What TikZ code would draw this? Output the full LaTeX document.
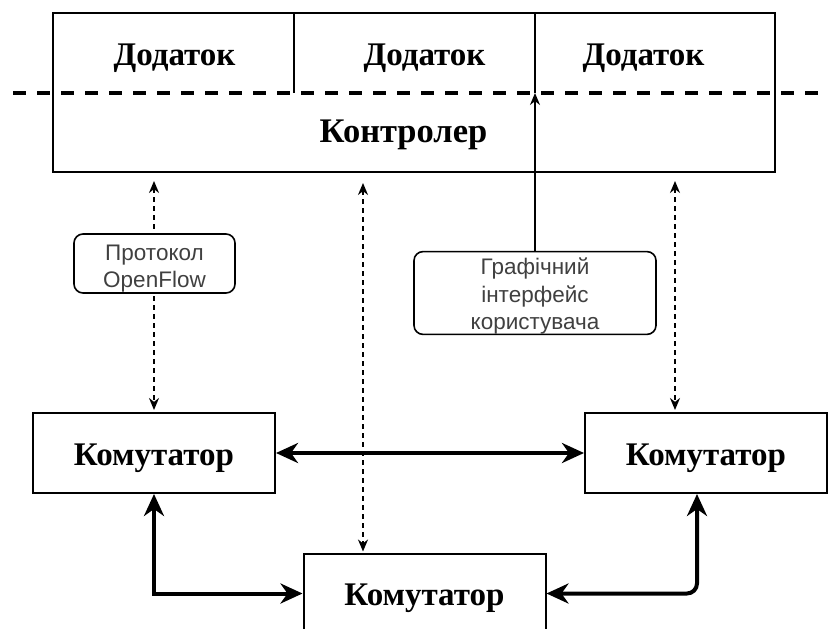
\documentclass[tikz,border=0pt]{standalone}
\usepackage{fontspec}
\setmainfont{Liberation Serif}
\newfontfamily\labelsans{Liberation Sans}
\usetikzlibrary{arrows.meta}

\begin{document}
\begin{tikzpicture}[x=1pt,y=-1pt,
  frame/.style={draw, line width=2pt, inner sep=0pt},
  switchbox/.style={frame, minimum width=242pt, minimum height=80pt,
    text height=24pt, text depth=0pt,
    font=\fontsize{33}{38}\selectfont\bfseries},
  title/.style={inner sep=0pt, anchor=base, font=\fontsize{33}{38}\selectfont\bfseries},
  tag/.style={draw, fill=white, rounded corners=9pt, line width=1.6pt,
    inner sep=0pt, align=center, text=black!75,
    font=\labelsans\fontsize{22.5}{27.5}\selectfont},
  rule/.style={line width=1.6pt},
  split/.style={line width=4pt, dash pattern=on 13pt off 11pt},
  sig/.style={line width=1.8pt, dash pattern=on 5pt off 4pt,
    {Stealth[length=12pt,width=10pt]}-{Stealth[length=12pt,width=10pt]}},
  feed/.style={line width=1.8pt, -{Stealth[length=12pt,width=10pt]}},
  link/.style={line width=4pt,
    {Stealth[length=22pt,width=20pt,inset=7pt]}-{Stealth[length=22pt,width=20pt,inset=7pt]}}
]
\useasboundingbox (0,0) rectangle (830,629);

% controller with its application layer
\node[frame, minimum width=722pt, minimum height=159pt] (ctrl) at (414,92.5) {};
\draw[rule] (294,13) -- (294,93);
\draw[rule] (535,13) -- (535,93);
\node[title] (app1) at (174.5,65) {Додаток};
\node[title] (app2) at (424.5,65) {Додаток};
\node[title] (app3) at (643.5,65) {Додаток};
\node[title, font=\fontsize{34.5}{38}\selectfont\bfseries] (ctrlname) at (403.5,142) {Контролер};

% northbound / southbound boundary
\coordinate (sepL) at (13,93);
\coordinate (sepR) at (820,93);
\draw[split] (sepL) -- (sepR);

% switches
\node[switchbox] (sw1) at (154,453) {Комутатор};
\node[switchbox] (sw2) at (706,453) {Комутатор};
\node[switchbox] (sw3) at (424.5,593.5) {Комутатор};

% user interface
\node[tag, minimum width=242pt, minimum height=80pt, text height=78pt, text depth=4.8pt]
  (gui) at (535,293) {Графічний\\інтерфейс\\користувача};
\draw[feed] (gui.north) -- (gui.north |- sepL);

% OpenFlow channels
\draw[sig, shorten <=8pt, shorten >=2pt] (ctrl.south -| sw1.north) -- (sw1.north);
\draw[sig, shorten <=10pt, shorten >=1pt] (ctrl.south -| 363,0) -- (sw3.north -| 363,0);
\draw[sig, shorten <=8pt, shorten >=2pt] (ctrl.south -| 675,0) -- (sw2.north -| 675,0);
\node[tag, minimum width=161pt, minimum height=59pt, text height=53pt, text depth=5pt]
  (ofp) at (154.5,263.5) {Протокол\\OpenFlow};

% data plane links
\draw[link] (sw1.east) -- (sw2.west);
\draw[link] (sw1.south) |- (sw3.west);
\draw[link, rounded corners=10pt] (sw2.south -| 697,0) |- (sw3.east);
\end{tikzpicture}
\end{document}
